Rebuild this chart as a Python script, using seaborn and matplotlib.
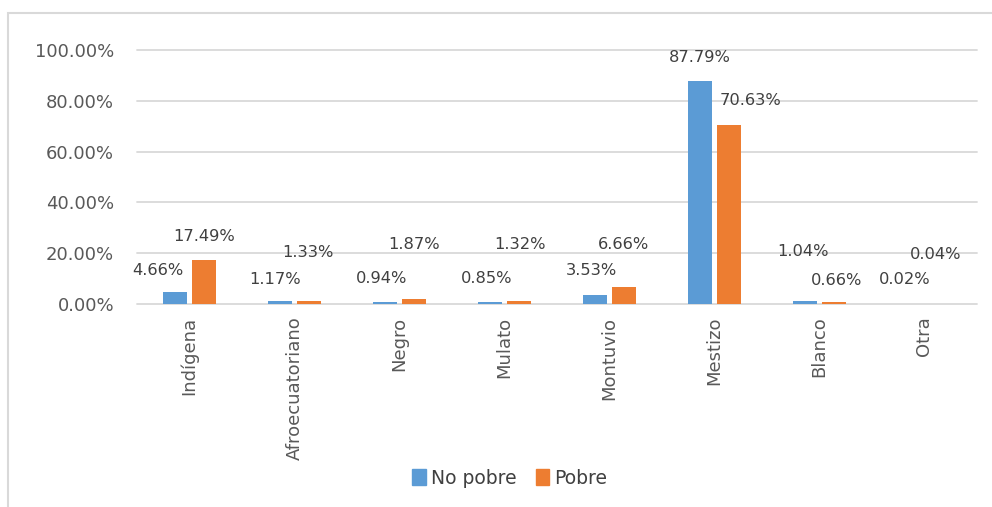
import matplotlib
matplotlib.use("Agg")
import matplotlib.pyplot as plt
import matplotlib.patches as mpatches
import seaborn as sns
import pandas as pd

# Data (percent)
categories = ['Indígena', 'Afroecuatoriano', 'Negro', 'Mulato', 'Montuvio',
              'Mestizo', 'Blanco', 'Otra']
no_pobre = [4.66, 1.17, 0.94, 0.85, 3.53, 87.79, 1.04, 0.02]
pobre = [17.49, 1.33, 1.87, 1.32, 6.66, 70.63, 0.66, 0.04]
series = ['No pobre', 'Pobre']

# label offsets (pixels) as placed in the reference
label_dy = {'No pobre': [22, 22, 23, 23, 25, 24, 50, 24],
            'Pobre': [23, 48, 55, 56, 43, 24, 22, 49]}
label_dx = {'No pobre': [-17, -4, -3, -3, -3, 0, -2, -5],
            'Pobre': [0, -2, 0, 1, -1, 21, 2, -4]}

df = pd.DataFrame({
    'Etnia': categories * 2,
    'Valor': no_pobre + pobre,
    'Serie': ['No pobre'] * len(categories) + ['Pobre'] * len(categories),
})

sns.set_style('white')
plt.rcParams['font.family'] = ['DejaVu Sans']

fig = plt.figure(figsize=(9.92, 5.07), dpi=100)
ax = fig.add_axes([137 / 992, 1 - 304 / 507, 840 / 992, 254 / 507])

colors = {'No pobre': '#5B9BD5', 'Pobre': '#ED7D31'}
sns.barplot(data=df, x='Etnia', y='Valor', hue='Serie', hue_order=series,
            palette=colors, saturation=1, width=0.571, gap=0.2, linewidth=0,
            ax=ax, legend=False)

ax.set_ylim(0, 100)
ax.set_xlim(-0.5, len(categories) - 0.5)
ax.set_yticks([0, 20, 40, 60, 80, 100])
ax.set_yticklabels(['{:.2f}%'.format(v) for v in [0, 20, 40, 60, 80, 100]])
ax.yaxis.grid(True, color='#D9D9D9', linewidth=1.3)
for gl in ax.get_ygridlines():
    gl.set_clip_on(False)
ax.set_axisbelow(True)
for s in ax.spines.values():
    s.set_visible(False)
ax.tick_params(axis='y', length=0, pad=16.5, labelsize=13, labelcolor='#595959')
ax.tick_params(axis='x', length=0, pad=9, labelsize=13, labelcolor='#595959',
               labelrotation=90)
ax.set_xlabel('')
ax.set_ylabel('')

px = 0.72  # points per pixel at 100 dpi
for cont, name in zip(ax.containers, series):
    for i, bar in enumerate(cont):
        h = bar.get_height()
        ax.annotate('{:.2f}%'.format(h),
                    (bar.get_x() + bar.get_width() / 2, h),
                    xytext=(label_dx[name][i] * px, label_dy[name][i] * px),
                    textcoords='offset points', ha='center', va='center',
                    fontsize=11.7, color='#404040', annotation_clip=False)

handles = [mpatches.Patch(color=colors[s], label=s) for s in series]
fig.legend(handles=handles, loc='center', bbox_to_anchor=(0.514, 0.057),
           ncol=2, frameon=False, fontsize=13.5, handlelength=0.7,
           handleheight=0.9, handletextpad=0.3, columnspacing=1.0,
           labelcolor='#404040')

# chart border (only top and left visible in the reference)
fig.add_artist(mpatches.Rectangle((8 / 992, -0.1), 1.2, 1.1 - 13 / 507,
                                  transform=fig.transFigure, fill=False,
                                  edgecolor='#D9D9D9', linewidth=1.5))

fig.savefig('out.png', dpi=100)
